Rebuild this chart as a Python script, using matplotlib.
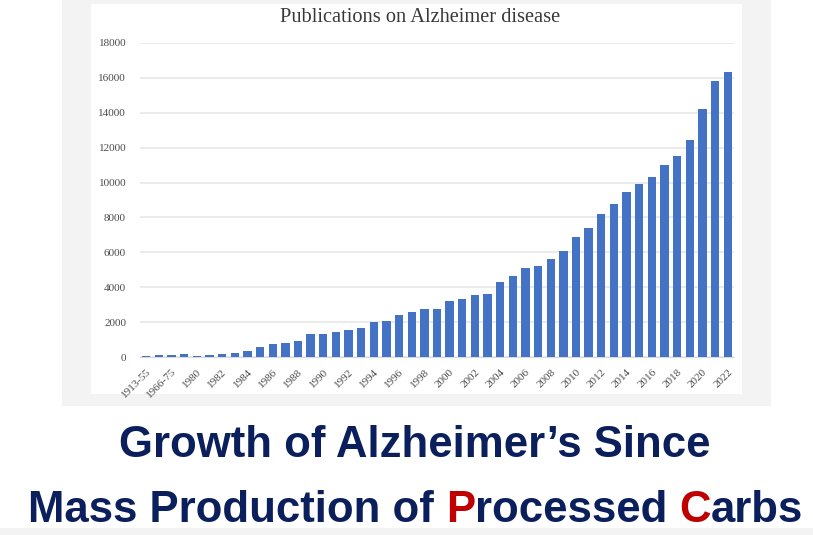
import matplotlib
matplotlib.use("Agg")
import matplotlib.pyplot as plt
from matplotlib.patches import Rectangle

# ---- data ----
categories = ["1913-55", "1956-65", "1966-75", "1976-79",
              "1980", "1981", "1982", "1983", "1984", "1985", "1986", "1987",
              "1988", "1989", "1990", "1991", "1992", "1993", "1994", "1995",
              "1996", "1997", "1998", "1999", "2000", "2001", "2002", "2003",
              "2004", "2005", "2006", "2007", "2008", "2009", "2010", "2011",
              "2012", "2013", "2014", "2015", "2016", "2017", "2018", "2019",
              "2020", "2021", "2022"]
publications = [60, 120, 120, 200,
                60, 110, 200, 270, 360, 570, 770, 820,
                950, 1350, 1350, 1450, 1550, 1650, 2000, 2050,
                2400, 2620, 2780, 2780, 3240, 3350, 3540, 3600,
                4320, 4630, 5090, 5240, 5600, 6080, 6880, 7390,
                8210, 8780, 9430, 9910, 10330, 11030, 11530, 12420,
                14230, 15830, 16330]
y_ticks = [0, 2000, 4000, 6000, 8000, 10000, 12000, 14000, 16000, 18000]
chart_title = "Publications on Alzheimer disease"
caption_line1 = "Growth of Alzheimer\u2019s Since"
caption_line2 = [("Mass Production of ", "navy"), ("P", "red"), ("rocessed ", "navy"),
                 ("C", "red"), ("arbs", "navy")]

W, H = 813, 535
fig = plt.figure(figsize=(W / 100, H / 100), dpi=100)
fig.patch.set_facecolor("white")

def px_rect(x0, y0, x1, y1, color, z):
    fig.patches.append(Rectangle((x0 / W, 1 - y1 / H), (x1 - x0) / W, (y1 - y0) / H,
                                 transform=fig.transFigure, facecolor=color,
                                 edgecolor="none", zorder=z))

# frame of the embedded chart picture
px_rect(62, 0, 771, 406, "#f3f3f3", -2)
px_rect(91, 4, 742, 394, "#ffffff", -1)
px_rect(0, 528, 813, 535, "#f3f3f3", -2)

ax = fig.add_axes([140 / W, 1 - 357.3 / H, (734 - 140) / W, (357.3 - 42.7) / H])
ax.set_zorder(1)
ax.set_facecolor("none")
x = list(range(len(categories)))
ax.bar(x, publications, width=0.66, color="#4472C4", zorder=3)
ax.set_xlim(-0.5, len(categories) - 0.5)
ax.set_ylim(0, 18000)
ax.set_yticks(y_ticks)
ax.set_yticklabels([str(v) for v in y_ticks], family="Liberation Serif",
                   fontsize=8, color="#4a4a4a")
ax.set_xticks(x[::2])
ax.set_xticklabels(categories[::2], family="Liberation Serif", fontsize=8,
                   color="#4a4a4a", rotation=45, ha="right", va="top",
                   rotation_mode="anchor")
ax.tick_params(axis="both", length=0)
ax.tick_params(axis="y", pad=10)
ax.tick_params(axis="x", pad=7)
ax.grid(axis="y", color="#e8e8e8", linewidth=1.2, zorder=0)
for s in ["left", "right", "top"]:
    ax.spines[s].set_visible(False)
ax.spines["bottom"].set_color("#d9d9d9")
ax.spines["bottom"].set_zorder(2)

fig.text(420 / W, 1 - 17 / H, chart_title, family="Liberation Serif",
         fontsize=14.7, color="#383838", ha="center", va="center")

NAVY = "#0b1f5c"
RED = "#c00000"
cap_font = dict(family="Liberation Sans", fontweight="bold", fontsize=31.5)
fig.text(415 / W, 1 - 457 / H, caption_line1, color=NAVY, ha="center",
         va="baseline", **cap_font)

# second caption line with coloured letters, placed piece by piece
fig.canvas.draw()
renderer = fig.canvas.get_renderer()

def text_width(s):
    t = fig.text(0, 0, s, **cap_font)
    w = t.get_window_extent(renderer).width
    t.remove()
    return w

space_w = text_width("a a") - text_width("aa")
full = "".join(p for p, _ in caption_line2)
total_w = text_width(full)
left = 415.5 - total_w / 2
prefix = ""
for piece, c in caption_line2:
    stripped = prefix.rstrip()
    nsp = len(prefix) - len(stripped)
    xoff = (text_width(stripped) if stripped else 0) + nsp * space_w
    fig.text((left + xoff) / W, 1 - 522 / H, piece.strip(),
             color=NAVY if c == "navy" else RED, ha="left", va="baseline",
             **cap_font)
    prefix += piece

fig.savefig("out.png", dpi=100, facecolor=fig.get_facecolor())
